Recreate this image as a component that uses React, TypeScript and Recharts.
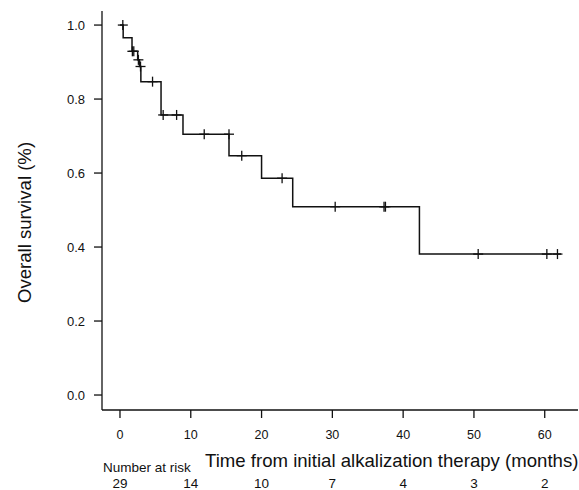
import { ComposedChart, Line, Scatter, XAxis, YAxis } from "recharts"

// Kaplan-Meier steps (time in months, survival)
const stepTimes = [0, 0.45, 1.7, 2.5, 2.75, 2.95, 5.8, 8.9, 15.4, 20.0, 24.4, 42.3, 62.3]
const stepSurv = [1.0, 0.966, 0.929, 0.906, 0.888, 0.847, 0.757, 0.705, 0.647, 0.586, 0.509, 0.381, 0.381]

// censored observations
const censorTimes = [0.4, 1.75, 1.95, 2.6, 2.9, 4.6, 6.1, 8.0, 11.9, 15.4, 17.2, 22.9, 30.4, 37.3, 37.5, 50.6, 60.3, 61.8]
const censorSurv = [1.0, 0.929, 0.929, 0.906, 0.888, 0.847, 0.757, 0.757, 0.705, 0.705, 0.647, 0.586, 0.509, 0.509, 0.509, 0.381, 0.381, 0.381]

const timeTicks = [0, 10, 20, 30, 40, 50, 60]
const atRisk = [29, 14, 10, 7, 4, 3, 2]
const survTicks = [0, 0.2, 0.4, 0.6, 0.8, 1.0]

const FONT = "'Liberation Sans', Arial, Helvetica, sans-serif"

const curve = stepTimes.map((t, i) => ({ t, s: stepSurv[i] }))
const censors = censorTimes.map((t, i) => ({ t, s: censorSurv[i] }))

function Cross({ cx, cy }: any) {
  if (cx == null || cy == null) return null
  return (
    <g stroke="#111" strokeWidth={1.3}>
      <line x1={cx - 5} y1={cy} x2={cx + 5} y2={cy} />
      <line x1={cx} y1={cy - 5} x2={cx} y2={cy + 5} />
    </g>
  )
}

function TimeTick({ x, y, payload }: any) {
  const idx = timeTicks.indexOf(payload.value)
  return (
    <g fontFamily={FONT} fill="#111">
      <text x={x} y={y + 19} textAnchor="middle" fontSize={12.5}>
        {payload.value}
      </text>
      <text x={x} y={y + 68} textAnchor="middle" fontSize={13.5}>
        {idx >= 0 ? atRisk[idx] : ""}
      </text>
    </g>
  )
}

function SurvTick({ y, payload }: any) {
  return (
    <text x={85} y={y + 4.5} textAnchor="end" fontFamily={FONT} fontSize={13} fill="#111">
      {Number(payload.value).toFixed(1)}
    </text>
  )
}

function TimeLabel({ viewBox }: any) {
  const { x, y } = viewBox
  return (
    <g fontFamily={FONT} fill="#111">
      <text x={x + 1} y={y + 62} fontSize={13.5}>
        Number at risk
      </text>
      <text x={x + 103} y={y + 56.5} fontSize={18.6}>
        Time from initial alkalization therapy (months)
      </text>
    </g>
  )
}

function SurvLabel({ viewBox }: any) {
  const cy = viewBox.y + viewBox.height / 2 + 12
  return (
    <text
      x={31}
      y={cy}
      transform={`rotate(-90, 31, ${cy})`}
      textAnchor="middle"
      fontFamily={FONT}
      fontSize={18.6}
      fill="#111"
    >
      Overall survival (%)
    </text>
  )
}

export default function App() {
  return (
    <div style={{ position: "absolute", left: 0, top: 0, background: "#fff" }}>
      <ComposedChart width={579} height={490} margin={{ top: 11, right: 1, bottom: 0, left: 0 }}>
        <XAxis
          dataKey="t"
          type="number"
          domain={[-2.54, 64.7]}
          ticks={timeTicks}
          allowDataOverflow
          height={80}
          axisLine={{ stroke: "#111", strokeWidth: 1.3 }}
          tickLine={{ stroke: "#111", strokeWidth: 1.3 }}
          tickSize={8}
          tickMargin={2}
          tick={<TimeTick />}
          label={<TimeLabel />}
        />
        <YAxis
          dataKey="s"
          type="number"
          domain={[-0.0405, 1.038]}
          ticks={survTicks}
          allowDataOverflow
          width={102}
          axisLine={{ stroke: "#111", strokeWidth: 1.3 }}
          tickLine={{ stroke: "#111", strokeWidth: 1.3 }}
          tickSize={8}
          tick={<SurvTick />}
          label={<SurvLabel />}
        />
        <Line
          data={curve}
          dataKey="s"
          type="stepAfter"
          stroke="#111"
          strokeWidth={1.5}
          dot={false}
          activeDot={false}
          isAnimationActive={false}
        />
        <Scatter data={censors} dataKey="s" shape={<Cross />} isAnimationActive={false} />
      </ComposedChart>
    </div>
  )
}
